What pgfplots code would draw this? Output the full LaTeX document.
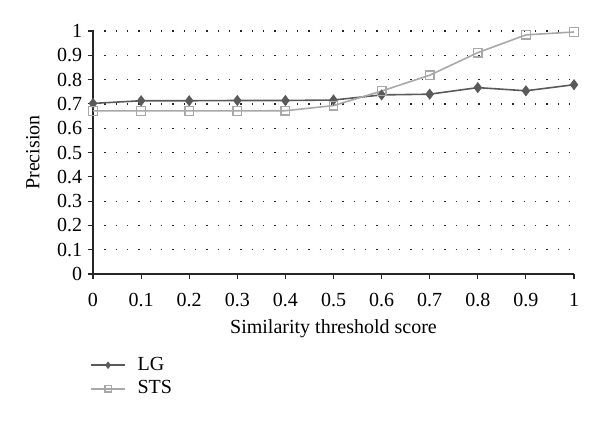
\documentclass[border=0pt]{standalone}
\usepackage{pgfplots}
\pgfplotsset{compat=1.18}
\usepackage{fontspec}
\setmainfont{Liberation Serif}
\definecolor{lgc}{HTML}{5A5A5A}
\definecolor{stsc}{HTML}{A8A8A8}
\begin{document}
\fontsize{15pt}{18pt}\selectfont
\begin{tikzpicture}
\useasboundingbox (-69.75pt,-111pt) rectangle (380.25pt,205.5pt);
\begin{axis}[
  at={(0,0)}, anchor=south west,
  scale only axis, width=360.75pt, height=182.25pt,
  xmin=0, xmax=1, ymin=0, ymax=1,
  axis lines*=left,
  axis line style={line width=1pt, black!85},
  xtick={0,0.1,...,1.01}, ytick={0,0.1,...,1.01},
  xticklabels={0,0.1,0.2,0.3,0.4,0.5,0.6,0.7,0.8,0.9,1},
  yticklabels={0,0.1,0.2,0.3,0.4,0.5,0.6,0.7,0.8,0.9,1},
  tick align=outside, tick style={black!85, line width=0.8pt},
  major tick length=4pt,
  xticklabel style={yshift=-5pt},
  yticklabel style={xshift=1pt},
  ymajorgrids, grid style={black!85, line width=0.9pt, dash pattern=on 0.9pt off 7.6pt},
  /pgf/number format/assume math mode=true,
  tick label style={font=\fontsize{15pt}{18pt}\selectfont},
  label style={font=\fontsize{15pt}{18pt}\selectfont},
  xlabel={Similarity threshold score}, ylabel={Precision},
  xlabel style={yshift=0pt}, ylabel style={yshift=3pt},
  legend style={at={(0,-0.33)}, anchor=north west, draw=none, fill=none, inner sep=0pt,
     font=\fontsize{15pt}{18pt}\selectfont, row sep=1.5pt, column sep=7pt, xshift=-2pt},
  legend cell align=left,
  legend image code/.code={\draw[mark repeat=2,mark phase=2,#1, mark size=2.4pt]
     plot coordinates {(0pt,0pt) (12.5pt,0pt) (25pt,0pt)};},
]
\addplot[lgc, line width=1.2pt, mark=diamond*, mark size=3.8pt, mark options={fill=lgc, line width=0.5pt}] coordinates {
(0,0.702) (0.1,0.713) (0.2,0.713) (0.3,0.714) (0.4,0.714) (0.5,0.716) (0.6,0.737) (0.7,0.740) (0.8,0.767) (0.9,0.754) (1,0.779)};
\addlegendentry{LG}
\addplot[stsc, line width=1.2pt, mark=square, mark size=3.2pt, mark options={fill=white, line width=1pt}] coordinates {
(0,0.671) (0.1,0.671) (0.2,0.671) (0.3,0.671) (0.4,0.672) (0.5,0.693) (0.6,0.753) (0.7,0.818) (0.8,0.911) (0.9,0.984) (1,0.996)};
\addlegendentry{STS}
\end{axis}
\end{tikzpicture}
\end{document}
